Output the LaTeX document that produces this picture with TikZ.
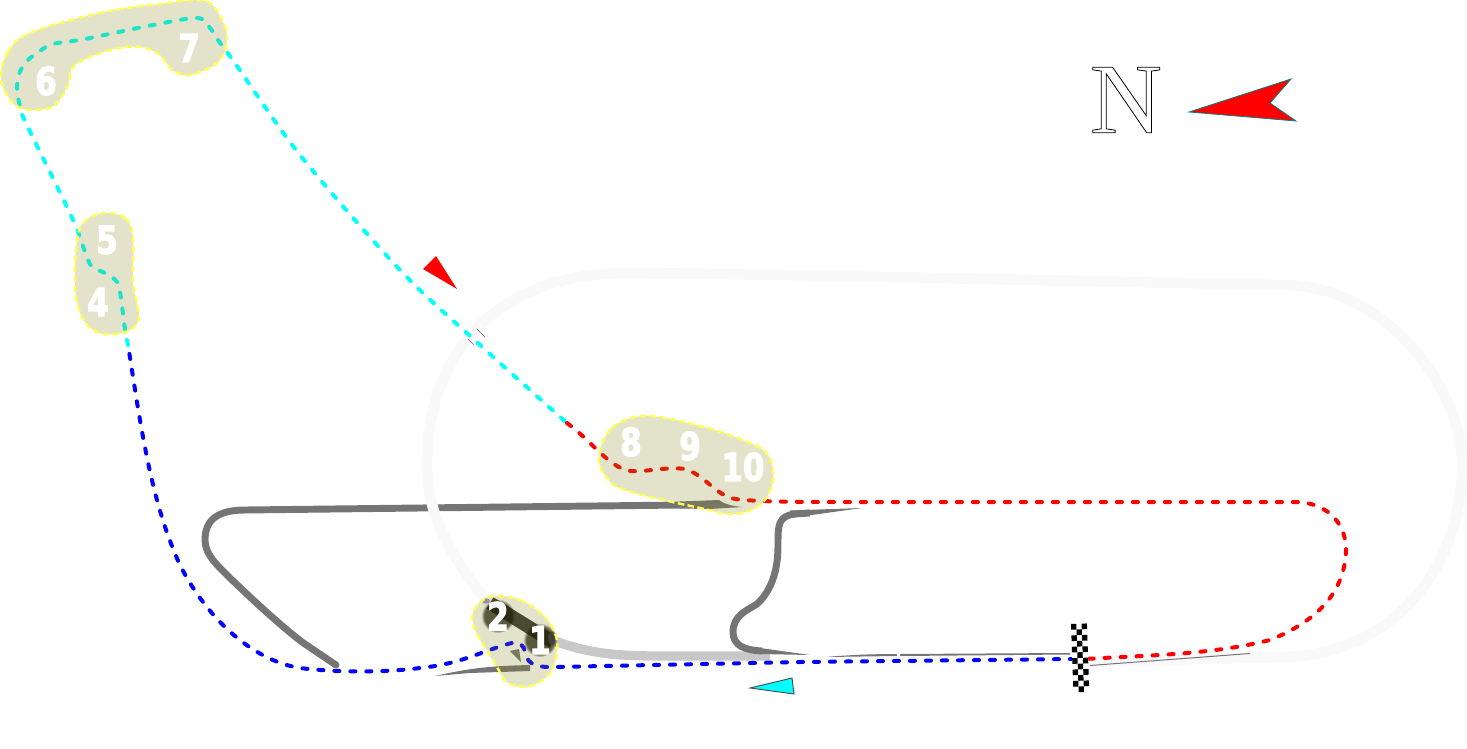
\documentclass[tikz,border=0pt]{standalone}
\usepackage{fontspec}
\usetikzlibrary{fadings}
\setmainfont{DejaVu Sans}[FakeStretch=0.8,BoldFont={DejaVu Sans Bold}]
\newfontfamily\serifN{Liberation Serif}
\newcommand{\fatnum}[1]{\special{pdf:code 2 Tr 0.9 w}#1\special{pdf:code 0 Tr 1 w}}
\definecolor{blobfill}{RGB}{132,132,26}
\definecolor{blobline}{HTML}{FFFF55}
\definecolor{tarmac}{HTML}{757575}
\definecolor{oval}{HTML}{F9F9F9}
\definecolor{lightroad}{HTML}{C8C8C8}
\definecolor{darkstrip}{HTML}{3A3A3A}
\definecolor{pureblue}{RGB}{0,0,255}
\definecolor{purered}{RGB}{255,0,0}
\definecolor{purecyan}{RGB}{0,255,255}
\tikzset{
  ovalroad/.style={draw=oval,line width=8pt,line join=round},
  road/.style={draw=tarmac,line width=5.2pt,line cap=round,line join=round},
  sliver/.style={fill=tarmac,draw=none},
  blob/.style={fill=blobfill,fill opacity=.227,draw=blobline,line width=1.8pt,dash pattern=on 5pt off 2.5pt},
  dots/.style={line width=3pt,line cap=round,dash pattern=on 3.8pt off 8.2pt},
  bluedots/.style={dots,draw=pureblue},
  reddots/.style={dots,draw=purered},
  cyandots/.style={dots,draw=purecyan},
  numlabel/.style={text=white,font=\bfseries\fontsize{28.8}{29}\selectfont,inner sep=0pt},
  glow/.style={black,opacity=.7,path fading=circle with fuzzy edge 20 percent},
}
\begin{document}
\begin{tikzpicture}[x=0.75pt,y=-0.75pt]
\useasboundingbox (0,0) rectangle (1467,749);
% grey roads
\draw[road] (682,505) -- (245,510) .. controls (215,510) and (205,522) .. (205,540)
  .. controls (205,555) and (218,566) .. (230,578)
  .. controls (255,602) and (280,625) .. (302,642) -- (336,665);
\path[sliver] (680,501.5) -- (719,500) .. controls (726,505) and (733,506) .. (742,507) -- (710,509) -- (680,508.5) -- cycle;
% oval
\draw[ovalroad] (490,605) .. controls (445,550) and (427,510) .. (427,465)
  .. controls (427,340) and (510,275) .. (620,273)
  .. controls (800,274) and (1100,282) .. (1290,285)
  .. controls (1390,290) and (1462,390) .. (1462,465)
  .. controls (1462,570) and (1390,657) .. (1280,657)
  -- (1090,662);
\draw[draw=lightroad,line width=7pt] (555,641) .. controls (590,654) and (620,656) .. (660,656) -- (770,656);
\path[sliver] (435,676) .. controls (470,668) and (490,666) .. (530,665) -- (530,671) -- (470,673) -- cycle;
\path[sliver] (510,651) -- (519,649) -- (521,662) -- cycle;
\draw[road,line cap=butt] (762,651) .. controls (745,650) and (733,646) .. (733,632)
  .. controls (733,615) and (748,610) .. (757,604)
  .. controls (772,590) and (778,570) .. (778,545)
  .. controls (778,525) and (778,516) .. (795,514) -- (810,513);
\path[sliver] (790,510.5) -- (862,508) -- (790,518) -- cycle;
\path[sliver] (760,648) -- (810,655) -- (760,654) -- cycle;
\path[sliver] (825,657) .. controls (850,655) and (870,654) .. (897,654) -- (897,656) -- cycle;
\path[sliver] (900,654) -- (1070,653) -- (1070,654.5) -- (900,656) -- cycle;
\path[sliver] (1090,665) -- (1250,653) -- (1250,654) -- (1090,666) -- cycle;
% dark strip under 1-2
\draw[draw=darkstrip,line width=10pt] (490,603) -- (553,642);
\fill[blue!25!lightroad] (552,638) ellipse (3pt and 5pt);
\fill[blue!25!lightroad] (486,601) ellipse (3pt and 2pt);
\fill[glow] (498,616) circle (17);
\fill[glow] (540,640) circle (17);
% dotted course
\draw[bluedots] (1075,659) -- (800,662) -- (555,667)
  .. controls (530,668) and (527,660) .. (525,653)
  .. controls (524,645) and (520,640) .. (508,644)
  .. controls (480,652) and (460,664) .. (420,668)
  .. controls (390,672) and (340,673) .. (300,668)
  .. controls (250,660) and (205,615) .. (180,565)
  .. controls (150,500) and (140,420) .. (128,345);
\draw[cyandots] plot[smooth,tension=.55] coordinates {(128,345) (125,329) (123,314) (121,298) (117,282) (105,273) (92,267) (85,252) (80,237) (67,207) (25,121) (20,106) (17,90) (19,74) (27,61) (40,51) (53,44) (85,39) (148,26) (197,18) (210,28) (218,40) (237,66) (300,155) (400,270) (480,345) (567,423)};
\draw[reddots] (567,423) .. controls (590,440) and (605,462) .. (625,470)
  .. controls (640,474) and (665,466) .. (685,469)
  .. controls (705,475) and (715,495) .. (735,499)
  .. controls (760,502) and (800,502) .. (850,502)
  -- (1300,502) .. controls (1330,505) and (1346,525) .. (1346,550)
  .. controls (1345,590) and (1320,620) .. (1270,640)
  .. controls (1210,655) and (1150,655) .. (1085,659);
% blobs
\draw[blob] plot[smooth cycle,tension=.6] coordinates {(1,80) (8,52) (30,33) (100,13) (160,4) (205,1) (222,20) (227,40) (218,62) (190,75) (172,70) (160,55) (140,47) (110,50) (75,65) (68,85) (55,105) (35,110) (15,105)};
\draw[blob] plot[smooth cycle,tension=.6] coordinates {(105,213) (125,218) (133,237) (133,283) (139,315) (133,328) (117,334) (97,332) (82,317) (75,287) (77,240) (85,221)};
\draw[blob] plot[smooth cycle,tension=.6] coordinates {(599,455) (612,428) (645,416) (700,426) (745,441) (768,455) (773,480) (762,503) (735,514) (700,508) (625,490) (605,475)};
\draw[blob] plot[smooth cycle,tension=.6] coordinates {(497,596) (520,600) (543,615) (555,633) (557,650) (550,673) (530,686) (508,683) (497,667) (488,652) (475,630) (473,613) (483,600)};
% checker flag
\begin{scope}[shift={(1071,624)},rotate=2]
  \fill[white] (0,0) rectangle (16,68);
  \foreach \i in {0,...,11}{
    \pgfmathsetmacro{\yy}{\i*5.7}
    \ifodd\i \fill[black] (5.3,\yy) rectangle (10.6,\yy+5.7);
    \else \fill[black] (0,\yy) rectangle (5.3,\yy+5.7); \fill[black] (10.6,\yy) rectangle (15.9,\yy+5.7);\fi
  }
\end{scope}
% markers
\draw[fill=purecyan,draw=black!70,line width=.7pt] (750,688) -- (792,678) -- (794,694) -- cycle;
\fill[purered] (423,269) -- (436,256) -- (457,289) -- cycle;
\draw[fill=purered,draw=teal,line width=.6pt] (1189,112) -- (1291,79) -- (1270,103) -- (1296,121) -- cycle;
\draw[black!60,line width=.5pt] (477,329) -- (485,337);
\draw[black!60,line width=.5pt] (468,339) -- (474,345);
% numbers
\node[numlabel] (n6) at (46,81) {\fatnum{6}};
\node[numlabel] (n7) at (189,48) {\fatnum{7}};
\node[numlabel] (n5) at (107,240) {\fatnum{5}};
\node[numlabel] (n4) at (98,302) {\fatnum{4}};
\node[numlabel] (n8) at (631,442) {\fatnum{8}};
\node[numlabel] (n9) at (690,446) {\fatnum{9}};
\node[numlabel] (n10) at (743,467) {\fatnum{10}};
\node[numlabel] (n2) at (498,616) {\fatnum{2}};
\node[numlabel] (n1) at (540,640) {\fatnum{1}};
\node[inner sep=0pt,font=\serifN\fontsize{75}{75}\selectfont] (north) at (1126,100) {\special{pdf:code 1 Tr 0.6 w}N\special{pdf:code 0 Tr 1 w}};
\end{tikzpicture}
\end{document}
